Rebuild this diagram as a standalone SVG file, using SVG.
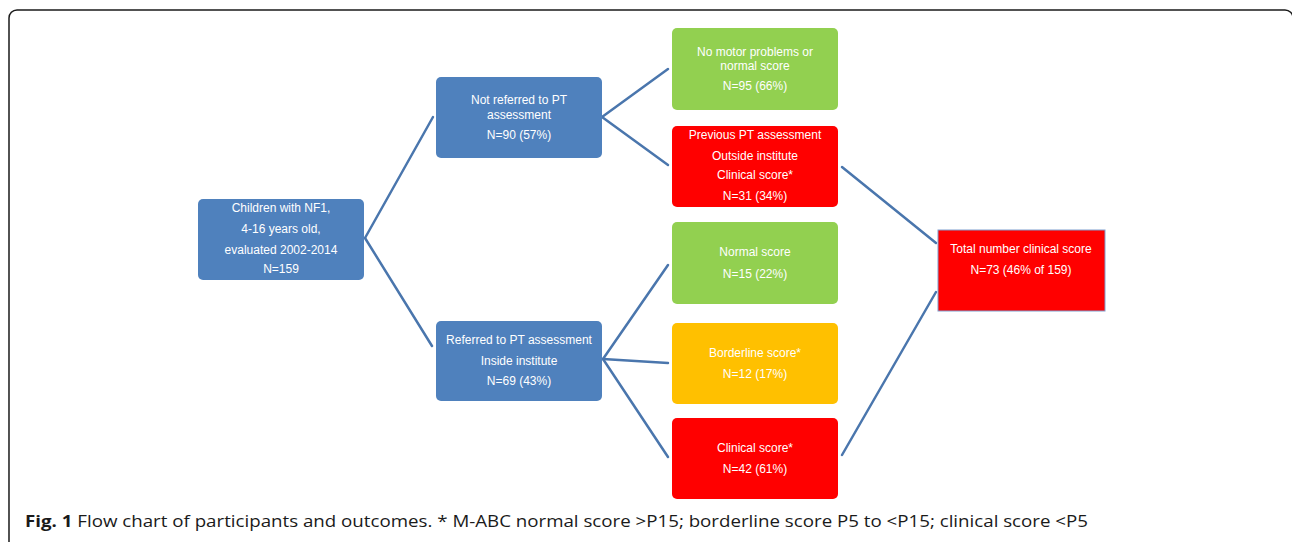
<svg xmlns="http://www.w3.org/2000/svg" width="1292" height="542" viewBox="0 0 1292 542">
<style>
.box{stroke:none}
.blue{fill:#4f81bd}
.green{fill:#92d050}
.red{fill:#ff0000}
.orange{fill:#ffc000}
.t{font-family:"Liberation Sans",Arial,sans-serif;font-size:12px;fill:#ffffff;text-anchor:middle}
.conn{stroke:#4a76ad;stroke-width:2.5;fill:none;stroke-linecap:round}
.cap{font-family:"Open Sans","Liberation Sans",sans-serif;font-size:16.5px;fill:#1a1a1a}
</style>
<rect x="9" y="10" width="1284" height="600" rx="8" ry="8" fill="#ffffff" stroke="#1a1a1a" stroke-width="1.5"/>
<g id="connectors">
<path class="conn" d="M365 238 L433 117"/>
<path class="conn" d="M365 238 L432 346"/>
<path class="conn" d="M602 117 L668 69"/>
<path class="conn" d="M602 117 L668 165"/>
<path class="conn" d="M603 359 L668 265"/>
<path class="conn" d="M603 359 L668 363"/>
<path class="conn" d="M603 359 L668 457"/>
<path class="conn" d="M842 167 L936 243"/>
<path class="conn" d="M842 455 L936 292"/>
</g>
<g id="n-children">
<rect class="box blue" x="198" y="199" width="166" height="81" rx="5"/>
<text class="t" x="281" y="212">Children with NF1,</text>
<text class="t" x="281" y="233">4-16 years old,</text>
<text class="t" x="281" y="254">evaluated 2002-2014</text>
<text class="t" x="281" y="273">N=159</text>
</g>
<g id="n-notref">
<rect class="box blue" x="436" y="77" width="166" height="81" rx="5"/>
<text class="t" x="519" y="104">Not referred to PT</text>
<text class="t" x="519" y="119">assessment</text>
<text class="t" x="519" y="139">N=90  (57%)</text>
</g>
<g id="n-nomotor">
<rect class="box green" x="672" y="28" width="166" height="82" rx="5"/>
<text class="t" x="755" y="56">No motor problems or</text>
<text class="t" x="755" y="70">normal score</text>
<text class="t" x="755" y="90">N=95  (66%)</text>
</g>
<g id="n-prev">
<rect class="box red" x="672" y="126" width="166" height="81" rx="5"/>
<text class="t" x="755" y="139">Previous PT assessment</text>
<text class="t" x="755" y="160">Outside institute</text>
<text class="t" x="755" y="179">Clinical score*</text>
<text class="t" x="755" y="200">N=31  (34%)</text>
</g>
<g id="n-ref">
<rect class="box blue" x="436" y="321" width="166" height="80" rx="5"/>
<text class="t" x="519" y="344">Referred  to PT assessment</text>
<text class="t" x="519" y="365">Inside institute</text>
<text class="t" x="519" y="385">N=69  (43%)</text>
</g>
<g id="n-normal">
<rect class="box green" x="672" y="222" width="166" height="82" rx="5"/>
<text class="t" x="755" y="256">Normal score</text>
<text class="t" x="755" y="278">N=15  (22%)</text>
</g>
<g id="n-border">
<rect class="box orange" x="672" y="323" width="166" height="81" rx="5"/>
<text class="t" x="755" y="357">Borderline score*</text>
<text class="t" x="755" y="378">N=12  (17%)</text>
</g>
<g id="n-clinical">
<rect class="box red" x="672" y="418" width="166" height="81" rx="5"/>
<text class="t" x="755" y="452">Clinical score*</text>
<text class="t" x="755" y="473">N=42  (61%)</text>
</g>
<g id="n-total">
<rect x="938" y="230" width="167" height="81" fill="#ff0000" stroke="#7f9fcf" stroke-width="1"/>
<text class="t" x="1021" y="253">Total number  clinical score</text>
<text class="t" x="1021" y="274">N=73  (46% of 159)</text>
</g>
<text class="cap" x="25" y="527" textLength="1063" lengthAdjust="spacingAndGlyphs"><tspan font-weight="bold">Fig. 1</tspan> Flow chart of participants and outcomes. * M-ABC normal score &gt;P15; borderline score P5 to &lt;P15; clinical score &lt;P5</text>
</svg>
